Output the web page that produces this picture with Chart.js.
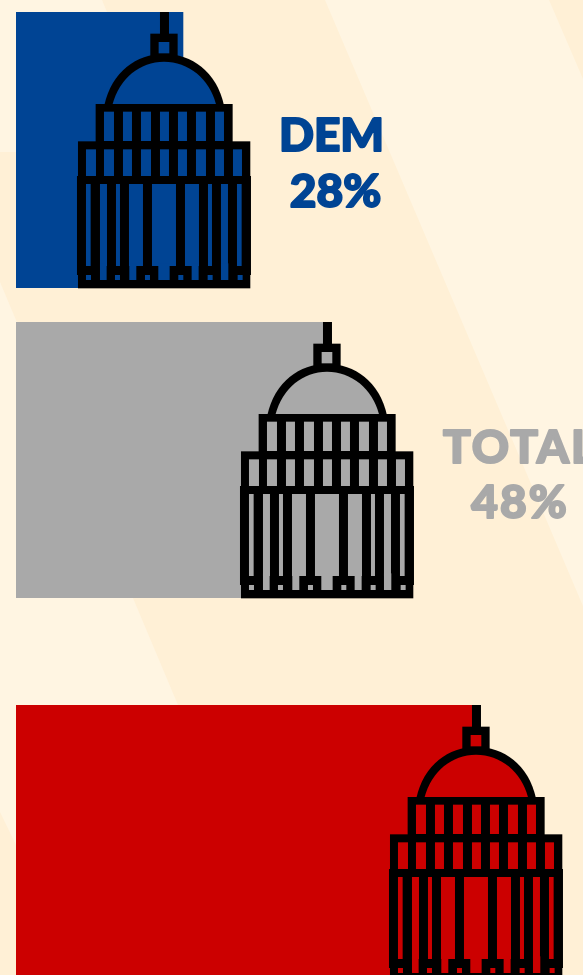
<!DOCTYPE html>
<html>
<head>
<meta charset="utf-8">
<script src="https://cdn.jsdelivr.net/npm/chart.js@4"></script>
<style>
html,body{margin:0;padding:0;width:583px;height:975px;overflow:hidden;background:#FFF0D6}
#bg{position:absolute;left:0;top:0}
canvas{position:absolute;left:0}
</style>
</head>
<body>
<svg id="bg" width="583" height="975" xmlns="http://www.w3.org/2000/svg">
  <g fill="#FFF5E2">
    <polygon points="325,0 549,0 583,79 583,606"/>
    <polygon points="0,0 102,0 107,12 107,152 0,152"/>
    <polygon points="0,282 178,705 16,705 16,845 0,812"/>
  </g>
</svg>
<canvas id="c0"></canvas>
<canvas id="c1"></canvas>
<canvas id="c2"></canvas>
<script>
const categories = ['DEM', 'TOTAL', 'REP'];
const shares = [28, 48, 68];
const valueLabels = ['28%', '48%', '68%'];
const barColors = ['#004494', '#A9A9A9', '#CC0000'];

const AXIS_MIN = 5, AXIS_MAX = 83.1;
const rowTops = [12, 322, 705];
const iconShift = [-18.5, -0.7, 3.1];
const labelCentre = [[167, 171], [192.5, 192.5], [192, 192]];
const labelBase = [[151, 207], [153, 208], [151, 207]];
const labelSpacing = ['0px', '2px', '0px'];
const FONT = '900 46px Lato, Inter, sans-serif';
const BAR_H = 276;

function drawIcon(ctx, cx, top, color) {
  const X = z => cx + z / 3 - 164.5;
  const Y = z => top + z / 3 - 12;
  const R = (x0, y0, x1, y1, c) => {
    ctx.fillStyle = c;
    ctx.fillRect(X(x0), Y(y0), (x1 - x0) / 3, (y1 - y0) / 3);
  };
  const K = '#000';
  R(480, 36, 507, 110, K);
  R(451, 101, 533, 175, K);
  R(476, 126, 508, 160, color);
  ctx.fillStyle = K;
  ctx.beginPath();
  ctx.moveTo(X(313), Y(316));
  ctx.bezierCurveTo(X(335), Y(215), X(410), Y(162), X(492), Y(162));
  ctx.bezierCurveTo(X(575), Y(162), X(650), Y(215), X(672), Y(316));
  ctx.closePath();
  ctx.fill();
  ctx.fillStyle = color;
  ctx.beginPath();
  ctx.moveTo(X(338), Y(312));
  ctx.bezierCurveTo(X(358), Y(235), X(420), Y(185), X(492), Y(185));
  ctx.bezierCurveTo(X(565), Y(185), X(628), Y(235), X(648), Y(312));
  ctx.closePath();
  ctx.fill();
  R(287, 312, 698, 430, K);
  [[312,342],[369,396],[423,453],[480,507],[534,561],[588,618],[645,672]]
    .forEach(w => R(w[0], 335, w[1], 423, color));
  R(234, 424, 751, 540, K);
  [[258,288],[312,342],[369,396],[423,453],[480,507],[534,561],[588,618],[645,672],[699,726]]
    .forEach(w => R(w[0], 448, w[1], 528, color));
  R(231, 528, 753, 825, K);
  R(234, 798, 751, 865, K);
  [[258,272],[300,321],[348,360],[387,429],[456,528],[555,597],[624,636],[663,684],[711,725]]
    .forEach(w => R(w[0], 552, w[1], 798, color));
  [[300,320],[388,409],[475,509],[575,596],[663,685]]
    .forEach(w => R(w[0], 790, w[1], 840, color));
  [[258,273],[345,360],[435,450],[535,550],[623,638],[713,728]]
    .forEach(w => R(w[0], 825, w[1], 840, color));
}

const iconPlugin = {
  id: 'capitol',
  afterDatasetsDraw(chart, args, opts) {
    const i = opts.row, ctx = chart.ctx;
    const end = chart.scales.x.getPixelForValue(shares[i]);
    const cx = end + iconShift[i];
    drawIcon(ctx, cx, chart.chartArea.top, barColors[i]);
    ctx.save();
    ctx.font = FONT;
    ctx.letterSpacing = labelSpacing[i];
    ctx.fillStyle = barColors[i];
    ctx.strokeStyle = barColors[i];
    ctx.lineWidth = 2;
    ctx.lineJoin = 'round';
    ctx.textAlign = 'center';
    ctx.textBaseline = 'alphabetic';
    if (cx + labelCentre[i][0] < chart.width) {
      [categories[i], valueLabels[i]].forEach((t, n) => {
        ctx.fillText(t, cx + labelCentre[i][n], labelBase[i][n]);
        ctx.strokeText(t, cx + labelCentre[i][n], labelBase[i][n]);
      });
    }
    ctx.restore();
  }
};

categories.forEach((cat, i) => {
  const cv = document.getElementById('c' + i);
  cv.style.top = (rowTops[i] - 12) + 'px';
  cv.style.width = '583px';
  cv.style.height = (BAR_H + 16) + 'px';
  cv.width = 583;
  cv.height = BAR_H + 16;
  new Chart(cv, {
    type: 'bar',
    plugins: [iconPlugin],
    data: {
      labels: [cat],
      datasets: [{
        data: [shares[i]],
        backgroundColor: barColors[i],
        borderWidth: 0,
        categoryPercentage: 1,
        barPercentage: 1
      }]
    },
    options: {
      indexAxis: 'y',
      responsive: false,
      animation: false,
      layout: { padding: { left: 16, right: 0, top: 12, bottom: 4 } },
      plugins: {
        legend: { display: false },
        tooltip: { enabled: false },
        capitol: { row: i }
      },
      scales: {
        x: { display: false, min: AXIS_MIN, max: AXIS_MAX },
        y: { display: false }
      }
    }
  });
});
</script>
</body>
</html>
